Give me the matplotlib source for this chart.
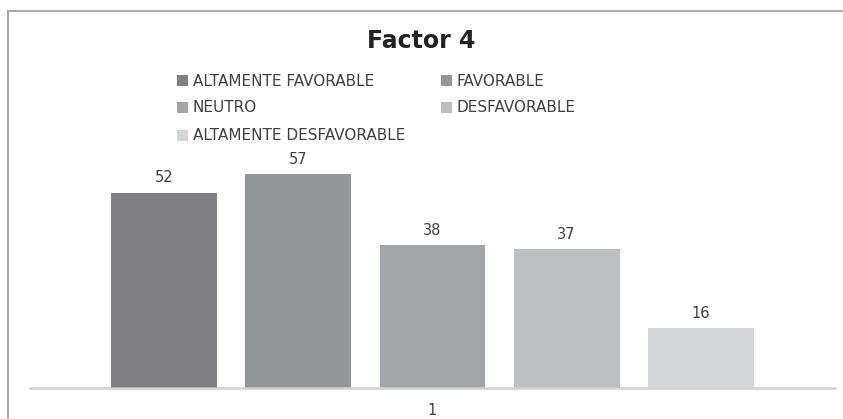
import matplotlib
matplotlib.use('Agg')
import matplotlib.pyplot as plt
from matplotlib.patches import Rectangle
import numpy as np

# data
categorias = ['ALTAMENTE FAVORABLE', 'FAVORABLE', 'NEUTRO', 'DESFAVORABLE', 'ALTAMENTE DESFAVORABLE']
valores = [52, 57, 38, 37, 16]
colores = ['#808083', '#949598', '#a3a4a7', '#bebfc2', '#d5d6d8']
etiqueta_x = '1'

plt.rcParams['font.family'] = ['DejaVu Sans']

W, H = 843, 419
fig = plt.figure(figsize=(W / 100, H / 100), dpi=100)


def fx(px):
    return px / W


def fy(py):
    return (H - py) / H


# outer chart border
fig.patches.append(Rectangle((fx(8), -0.1), 1.2, fy(11) + 0.1, transform=fig.transFigure,
                             fill=False, edgecolor='#ababab', linewidth=1.5))

ax = fig.add_axes([fx(30), fy(388), 805 / W, 225 / H])
pos = np.arange(len(valores))
ax.bar(pos, valores, width=0.79, color=colores)
for x, v in zip(pos, valores):
    ax.text(x, v + 4, str(v), ha='center', va='center', fontsize=10.5, color='#404040')

ax.set_xlim(2 - 3.0, 2 + 3.0)
ax.set_ylim(0, 60)
ax.set_xticks([2])
ax.set_xticklabels([etiqueta_x], fontsize=10.5, color='#404040')
ax.tick_params(axis='x', length=0, pad=11)
ax.set_yticks([])
for s in ['top', 'right', 'left']:
    ax.spines[s].set_visible(False)
ax.spines['bottom'].set_color('#d0d0d0')
ax.spines['bottom'].set_linewidth(1.8)
ax.patch.set_visible(False)

fig.text(0.5, fy(41), 'Factor 4', ha='center', va='center', fontsize=17, fontweight='bold', color='#222222')

# legend laid out row by row, two columns like the original
col_x = [177, 441]
row_y = [81, 108, 135]
for i, (nombre, c) in enumerate(zip(categorias, colores)):
    x0 = col_x[i % 2]
    y0 = row_y[i // 2]
    fig.patches.append(Rectangle((fx(x0), fy(y0 + 5.5)), 11 / W, 11 / H, transform=fig.transFigure,
                                 facecolor=c, edgecolor='none'))
    fig.text(fx(x0 + 16), fy(y0), nombre, ha='left', va='center', fontsize=11, color='#404040')

fig.savefig('out.png', dpi=100)
